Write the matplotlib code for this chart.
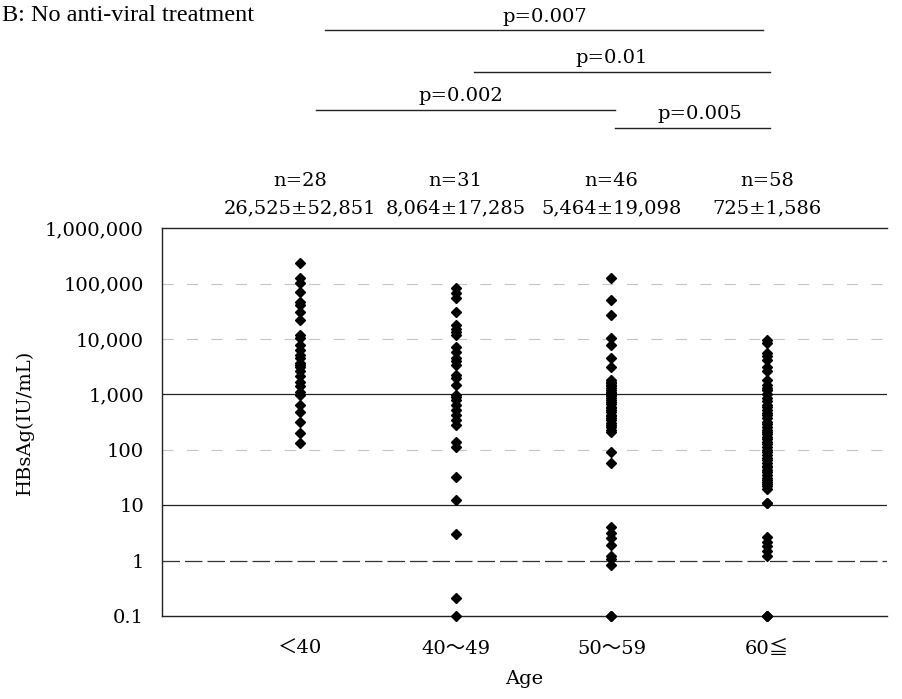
import matplotlib.pyplot as plt
import matplotlib.transforms as mtransforms
import numpy as np

plt.rcParams['font.family'] = ['DejaVu Serif', 'Noto Sans CJK JP', 'DejaVu Sans']

# age groups and HBsAg values (IU/mL) for the untreated patients
groups = ['＜40', '40〜49', '50〜59', '60≦']
n_labels = ['n=28', 'n=31', 'n=46', 'n=58']
stat_labels = ['26,525±52,851', '8,064±17,285', '5,464±19,098', '725±1,586']

age_lt40 = [237000, 126000, 103000, 70000, 47000, 41000, 31000, 22000, 12000, 10500,
            7800, 6300, 5100, 4500, 3700, 3400, 3150, 2600, 2100, 1700, 1400, 1080,
            960, 650, 480, 315, 200, 135]
age_40s = [82000, 68000, 55000, 31000, 18000, 15000, 13400, 11800, 7200, 5900, 4600,
           4000, 3400, 2200, 2000, 1500, 980, 900, 800, 650, 530, 430, 350, 280, 140,
           112, 32, 12.5, 3, 0.21, 0.1]
age_50s = [125000, 50000, 27000, 10500, 7800, 4500, 3150, 1800, 1700, 1600, 1500,
           1400, 1300, 1200, 1100, 1050, 980, 920, 870, 800, 720, 660, 590, 560, 520,
           480, 430, 400, 380, 350, 310, 280, 260, 230, 210, 92, 58, 4.1, 3.2, 2.6,
           1.9, 1.2, 1.05, 0.85, 0.1, 0.1]
age_60plus = [9600, 8500, 5600, 5000, 4200, 3150, 2600, 1830, 1480, 1300, 1200, 1000,
              870, 760, 650, 580, 520, 470, 430, 380, 315, 290, 255, 230, 210, 190,
              170, 155, 140, 125, 110, 100, 92, 82, 72, 65, 58, 52, 48, 43, 39, 35,
              31, 28, 26, 24, 22, 20, 11, 11, 2.7, 2.2, 1.8, 1.5, 1.2, 0.1, 0.1, 0.1]
values = [age_lt40, age_40s, age_50s, age_60plus]

# pairwise comparisons: (x from, x to, label)
comparisons = [(0.16, 2.97, 'p=0.007'),
               (1.12, 3.02, 'p=0.01'),
               (0.10, 2.02, 'p=0.002'),
               (2.02, 3.02, 'p=0.005')]
bracket_y = [1.510, 1.402, 1.304, 1.258]
label_x = [1.57, 2.0, 1.03, 2.57]

fs = 14

fig = plt.figure(figsize=(9.03, 6.99), dpi=100)
ax = fig.add_axes([0.1794, 0.1187, 0.803, 0.555])

for i, vals in enumerate(values):
    ax.plot(np.full(len(vals), i), vals, linestyle='none', marker='D',
            markersize=4.8, color='black', clip_on=False, zorder=3)

ax.set_yscale('log')
ax.set_ylim(0.1, 1e6)
ax.set_xlim(-0.886, 3.77)

# horizontal reference lines at each decade
solid_levels = [1000, 10]
dashed_levels = [1]
faint_levels = [100000, 10000, 100]
for lv in solid_levels:
    ax.axhline(lv, color='#222222', lw=0.9, zorder=1)
for lv in dashed_levels:
    ax.axhline(lv, color='#333333', lw=0.9, ls=(0, (14, 4)), zorder=1)
for lv in faint_levels:
    ax.axhline(lv, color='#c4c4c4', lw=0.8, ls=(0, (10, 12)), zorder=1)

ytick_vals = [0.1, 1, 10, 100, 1000, 10000, 100000, 1000000]
ytick_text = ['0.1', '1', '10', '100', '1,000', '10,000', '100,000', '1,000,000']
ax.set_yticks(ytick_vals)
ax.set_yticklabels(ytick_text, fontsize=fs)
ax.yaxis.set_minor_locator(plt.NullLocator())
ax.tick_params(axis='y', length=0, pad=13)

ax.set_xticks(range(len(groups)))
ax.set_xticklabels(groups, fontsize=fs)
ax.tick_params(axis='x', length=0, pad=17)

ax.spines['right'].set_visible(False)
for s in ['left', 'top', 'bottom']:
    ax.spines[s].set_linewidth(1.0)
    ax.spines[s].set_color('#222222')

ax.set_xlabel('Age', fontsize=fs, labelpad=9)
ax.set_ylabel('HBsAg(IU/mL)', fontsize=fs, labelpad=8)

trans = mtransforms.blended_transform_factory(ax.transData, ax.transAxes)
for i in range(len(groups)):
    ax.text(i, 1.121, n_labels[i], transform=trans, ha='center', va='center', fontsize=fs)
    ax.text(i, 1.052, stat_labels[i], transform=trans, ha='center', va='center', fontsize=fs)

for (x0, x1, label), y, tx in zip(comparisons, bracket_y, label_x):
    ax.plot([x0, x1], [y, y], transform=trans, color='#222222', lw=1.0, clip_on=False)
    ax.text(tx, y + 0.012, label, transform=trans, ha='center', va='bottom', fontsize=fs)

fig.text(0.002, 0.978, 'B: No anti-viral treatment', ha='left', va='center',
         fontsize=17.5, family='Liberation Serif')

fig.savefig('out.png', dpi=100)
